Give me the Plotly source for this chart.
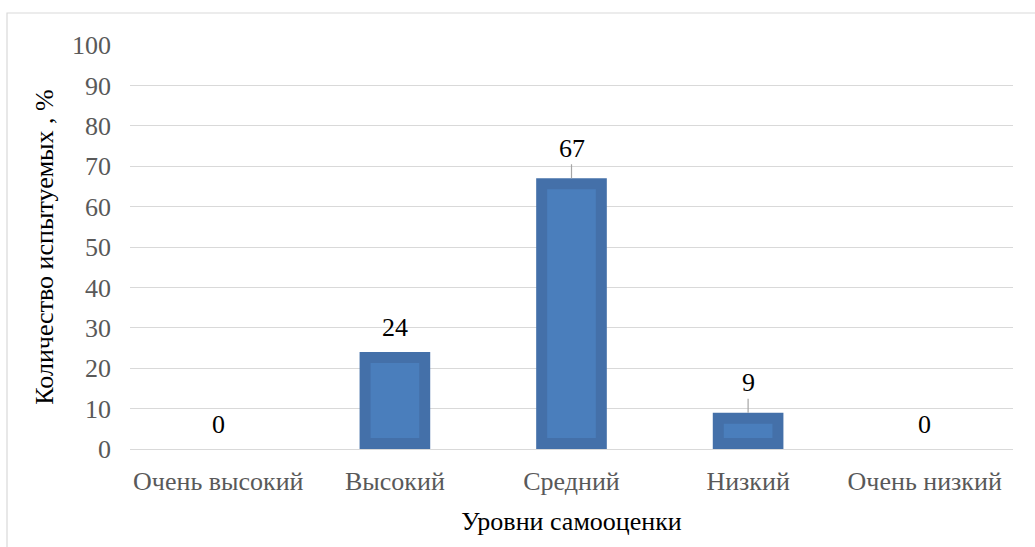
import plotly.graph_objects as go

# Self-esteem level distribution, percent of respondents
levels = ["Очень высокий", "Высокий", "Средний", "Низкий", "Очень низкий"]
percent = [0, 24, 67, 9, 0]
leader = [False, False, True, True, False]  # labels attached with a leader line
y_ticks = list(range(0, 101, 10))

W, H = 1035, 547
M = dict(l=130, r=22, t=45, b=98)
Y_MAX = 100
plot_w = W - M["l"] - M["r"]
plot_h = H - M["t"] - M["b"]
px_per_unit = plot_h / Y_MAX
inset_px = 11
inset = inset_px / px_per_unit  # bevel inset of the inner face, in data units
BAR_W = 0.4

FONT = '"Liberation Serif", "Times New Roman", serif'
OUTER = "#4470A9"
INNER = "#4A7EBC"

fig = go.Figure()
fig.add_trace(go.Bar(
    x=levels, y=percent, width=BAR_W,
    marker=dict(color=OUTER, line=dict(width=0)),
    hoverinfo="skip", showlegend=False,
))
inner_h = [v - 2 * inset if v > 2 * inset else None for v in percent]
fig.add_trace(go.Bar(
    x=levels, y=inner_h, base=[inset] * len(levels),
    width=BAR_W - 2 * inset_px / (plot_w / len(levels)),
    marker=dict(color=INNER, line=dict(width=0)),
    hoverinfo="skip", showlegend=False,
))

for lvl, v, lead in zip(levels, percent, leader):
    if lead:
        fig.add_annotation(
            x=lvl, y=v, text=str(v), showarrow=True, arrowhead=0,
            arrowwidth=1.2, arrowcolor="#A6A6A6", ax=0, ay=-30, standoff=0,
            font=dict(family=FONT, size=26, color="#000000"),
        )
    else:
        fig.add_annotation(
            x=lvl, y=v, text=str(v), showarrow=False, yshift=25,
            font=dict(family=FONT, size=26, color="#000000"),
        )

# chart frame
fig.add_shape(type="rect", xref="paper", yref="paper",
              x0=-123 / plot_w, x1=1.05,
              y0=-0.3, y1=1 + 32 / plot_h,
              line=dict(color="#D9D9D9", width=1.2), layer="below")

fig.update_layout(
    width=W, height=H, margin=M,
    barmode="overlay",
    plot_bgcolor="white", paper_bgcolor="white",
    font=dict(family=FONT, size=26, color="#595959"),
    xaxis=dict(
        showgrid=False, showline=False, ticks="", ticklabelstandoff=14,
        tickfont=dict(family=FONT, size=26, color="#595959"),
        title=dict(text="Уровни самооценки", font=dict(family=FONT, size=26, color="#000000"), standoff=16),
    ),
    yaxis=dict(
        range=[0, Y_MAX], tickvals=y_ticks, showgrid=True,
        gridcolor="#D9D9D9", gridwidth=1.2, zeroline=True, zerolinecolor="#D9D9D9",
        zerolinewidth=1.2, showline=False, ticks="", ticklabelstandoff=18,
        tickfont=dict(family=FONT, size=26, color="#595959"),
        title=dict(text="Количество испытуемых , %", font=dict(family=FONT, size=26, color="#000000"), standoff=10),
    ),
)

fig.write_html("out.html")
